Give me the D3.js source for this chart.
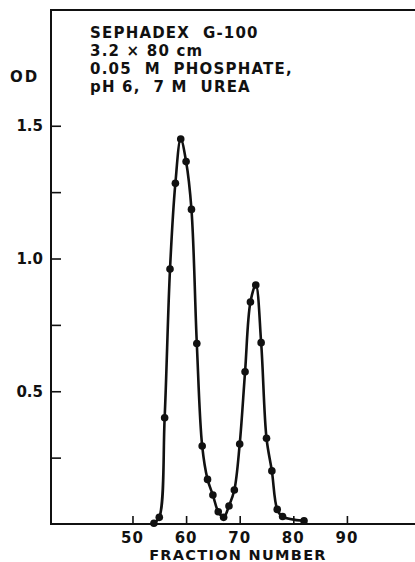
<!DOCTYPE html>
<html>
<head>
<meta charset="utf-8">
<script src="https://cdn.jsdelivr.net/npm/d3@7"></script>
<style>
  body { margin: 0; background: #fff; }
  svg text { font-family: "DejaVu Sans", sans-serif; font-weight: bold; fill: #111; }
</style>
</head>
<body>
<div id="chart"></div>
<script>
// elution profile
const fractions = [54, 55, 56, 57, 58, 59, 60, 61, 62, 63, 64, 65, 66, 67, 68, 69, 70, 71, 72, 73, 74, 75, 76, 77, 78, 82];
const od = [0.003, 0.025, 0.40, 0.96, 1.283, 1.45, 1.365, 1.185, 0.68, 0.294, 0.168, 0.109, 0.046, 0.025, 0.068, 0.128, 0.301, 0.573, 0.836, 0.90, 0.683, 0.323, 0.20, 0.055, 0.028, 0.012];
const xTicks = [50, 60, 70, 80, 90];
const yTicks = [0.25, 0.5, 0.75, 1.0, 1.25, 1.5];
const yLabels = ["0.5", "1.0", "1.5"];
const notes = ["SEPHADEX  G-100", "3.2 \u00d7 80 cm", "0.05  M  PHOSPHATE,", "pH 6,  7 M  UREA"];

const width = 415, height = 562;
const margin = { top: 10, right: 0, bottom: 38, left: 51 };

const svg = d3.select("#chart").append("svg")
  .attr("width", width)
  .attr("height", height);

const x = d3.scaleLinear().domain([34.8, 102.7]).range([margin.left, width - margin.right]);
const y = d3.scaleLinear().domain([0, 1.936]).range([height - margin.bottom, margin.top]);

const ink = "#111";

// frame: left, top, bottom
svg.append("path")
  .attr("d", `M${width},${margin.top}H${margin.left}V${height - margin.bottom}H${width}`)
  .attr("fill", "none")
  .attr("stroke", ink)
  .attr("stroke-width", 2);

// y ticks, pointing inwards
const yAxis = svg.append("g")
  .attr("transform", `translate(${margin.left},0)`)
  .call(d3.axisRight(y).tickValues(yTicks).tickSize(10).tickFormat(""));
yAxis.select(".domain").remove();
yAxis.selectAll("line").attr("stroke", ink).attr("stroke-width", 1.6);

svg.selectAll(".ylab")
  .data(yLabels)
  .enter()
  .append("text")
  .attr("class", "ylab")
  .attr("x", 43)
  .attr("y", (d) => y(+d))
  .attr("dy", "0.36em")
  .attr("text-anchor", "end")
  .attr("font-size", 15)
  .text((d) => d);

svg.append("text")
  .attr("x", 10)
  .attr("y", 77)
  .attr("dy", "0.36em")
  .attr("font-size", 15)
  .attr("letter-spacing", 2)
  .text("OD");

// x ticks, pointing up
const xAxis = svg.append("g")
  .attr("transform", `translate(0,${height - margin.bottom})`)
  .call(d3.axisTop(x).tickValues(xTicks).tickSize(8).tickFormat(""));
xAxis.select(".domain").remove();
xAxis.selectAll("line").attr("stroke", ink).attr("stroke-width", 1.6);

svg.selectAll(".xlab")
  .data(xTicks)
  .enter()
  .append("text")
  .attr("class", "xlab")
  .attr("x", (d) => x(d))
  .attr("y", 538)
  .attr("dy", "0.36em")
  .attr("text-anchor", "middle")
  .attr("font-size", 15)
  .attr("letter-spacing", 1)
  .text((d) => d);

svg.append("text")
  .attr("x", 238)
  .attr("y", 555)
  .attr("dy", "0.36em")
  .attr("text-anchor", "middle")
  .attr("font-size", 14.5)
  .attr("letter-spacing", 1.3)
  .text("FRACTION NUMBER");

// column conditions
svg.selectAll(".note")
  .data(notes)
  .enter()
  .append("text")
  .attr("class", "note")
  .attr("x", 90)
  .attr("y", (d, i) => 33 + i * 18)
  .attr("dy", "0.36em")
  .attr("font-size", 15)
  .attr("letter-spacing", 1.2)
  .style("white-space", "pre")
  .text((d) => d);

// curve and points
const pts = fractions.map((f, i) => ({ f, v: od[i] }));

const line = d3.line()
  .x((d) => x(d.f))
  .y((d) => y(d.v))
  .curve(d3.curveCatmullRom.alpha(0.5));

svg.append("path")
  .datum(pts)
  .attr("d", line)
  .attr("fill", "none")
  .attr("stroke", ink)
  .attr("stroke-width", 2.6);

svg.selectAll(".pt")
  .data(pts)
  .enter()
  .append("circle")
  .attr("class", "pt")
  .attr("cx", (d) => x(d.f))
  .attr("cy", (d) => y(d.v))
  .attr("r", 3.8)
  .attr("fill", ink);
</script>
</body>
</html>
